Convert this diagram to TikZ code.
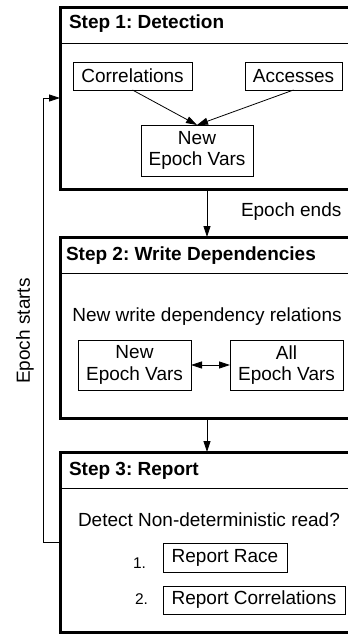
\documentclass[tikz,border=0pt]{standalone}
\usepackage{fontspec}
\setmainfont{Liberation Sans}
\usetikzlibrary{arrows.meta}
\frenchspacing
\begin{document}
\begin{tikzpicture}[x=1pt,y=-1pt,
  every node/.style={font=\fontsize{19}{21.7}\selectfont\frenchspacing, inner sep=0pt, outer sep=0pt},
  stage/.style={draw, line width=3pt, minimum width=294pt, anchor=north west},
  item/.style={draw, line width=0.8pt, align=center, anchor=north west},
  title/.style={anchor=base west, font=\fontsize{19}{21.7}\selectfont\bfseries\frenchspacing},
  num/.style={anchor=base west, font=\fontsize{15.5}{18}\selectfont},
  thin/.style={line width=0.8pt},
  arr/.style={line width=0.8pt, -{Triangle[length=11pt,width=7pt]}},
  darr/.style={line width=0.8pt, {Triangle[length=11pt,width=7pt]}-{Triangle[length=11pt,width=7pt]}},
]
\useasboundingbox (0,0) rectangle (348,635);
\clip (0,0) rectangle (348,635);

% Step 1
\node[stage, minimum height=182pt] (s1) at (60,7) {};
\draw[thin] (s1.north west) ++(0,36) -- ++(294,0);
\node[title] (t1) at (69,28.5) {Step 1: Detection};
\node[item, minimum width=119pt, minimum height=28pt] (c1) at (73,62) {Correlations};
\node[item, minimum width=97pt, minimum height=28pt] (a1) at (245,62) {Accesses};
\node[item, minimum width=112pt, minimum height=51pt] (n1) at (141,125) {New\\Epoch Vars};
\draw[arr] (c1.south) -- (n1.north);
\draw[arr] (a1.south) -- (n1.north);

% Step 2
\node[stage, minimum height=181pt] (s2) at (60,237) {};
\draw[thin] (s2.north west) ++(0,36) -- ++(294,0);
\node[title] (t2) at (66,260) {Step 2: Write Dependencies};
\draw[arr] (s1.south) -- (s2.north);
\node[anchor=base west] (ee) at (241,216.7) {Epoch ends};
\node[anchor=base] (wd) at (207,321.7) {New write dependency relations};
\node[item, minimum width=113pt, minimum height=50pt] (n2) at (78,340) {New\\Epoch Vars};
\node[item, minimum width=113pt, minimum height=50pt] (all2) at (230,340) {All\\Epoch Vars};
\draw[darr] (n2) -- (all2);

% Step 3
\node[stage, minimum height=180pt] (s3) at (60,452) {};
\draw[thin] (s3.north west) ++(0,36) -- ++(294,0);
\node[title] (t3) at (69,475) {Step 3: Report};
\draw[arr] (s2.south) -- (s3.north);
\node[anchor=base west] (q) at (78,526.7) {Detect Non-deterministic read?};
\node[num] (k1) at (133,568.3) {1.};
\node[item, minimum width=124pt, minimum height=29pt] (r1) at (163,543) {Report Race};
\node[num] (k2) at (135,604) {2.};
\node[item, minimum width=182pt, minimum height=28pt] (r2) at (163,586) {Report Correlations};

% feedback
\draw[arr] (s3.west) -- ++(-17,0) |- (s1.west);
\node[rotate=90] (es) at (25,331) {Epoch starts};
\end{tikzpicture}
\end{document}
